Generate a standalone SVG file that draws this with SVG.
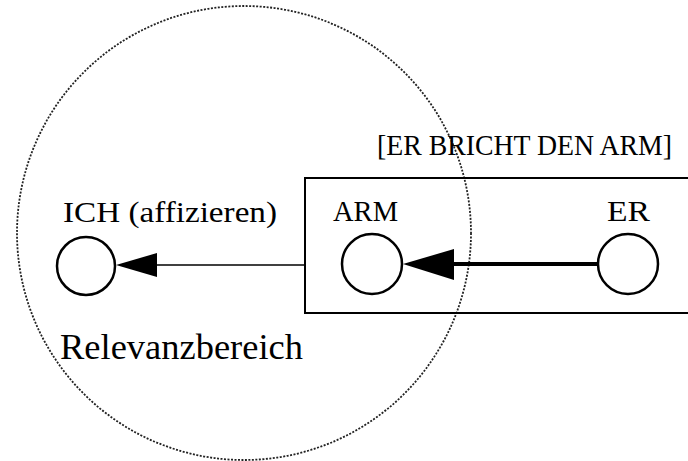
<svg xmlns="http://www.w3.org/2000/svg" width="688" height="461" viewBox="0 0 688 461">
  <style>
    .t { font-family: "Liberation Serif", "Times New Roman", serif; fill: #000; }
    .node { fill: #fff; stroke: #000; stroke-width: 2.5; }
  </style>
  <rect width="688" height="461" fill="#fff"/>
  <g id="relevanzbereich">
    <circle cx="244" cy="233" r="227" fill="none" stroke="#222" stroke-width="1.8" stroke-dasharray="2 1.5"/>
    <text class="t" x="60" y="359" font-size="36" textLength="243" lengthAdjust="spacingAndGlyphs">Relevanzbereich</text>
  </g>
  <g id="frame">
    <polyline points="688,178 305,178 305,313 688,313" fill="none" stroke="#000" stroke-width="2"/>
    <text class="t" x="377" y="155" font-size="29" textLength="295" lengthAdjust="spacingAndGlyphs">[ER BRICHT DEN ARM]</text>
  </g>
  <g id="connectors">
    <line x1="305" y1="265" x2="155" y2="265" stroke="#000" stroke-width="1.5"/>
    <polygon points="116,265 157,253 157,277" fill="#000"/>
    <line x1="598" y1="264" x2="450" y2="264" stroke="#000" stroke-width="4"/>
    <polygon points="403,264 454,249 454,280" fill="#000"/>
  </g>
  <g id="ich">
    <circle class="node" cx="86" cy="266" r="29"/>
    <text class="t" x="63" y="222" font-size="30" textLength="214" lengthAdjust="spacingAndGlyphs">ICH (affizieren)</text>
  </g>
  <g id="arm">
    <circle class="node" cx="372" cy="264" r="30"/>
    <text class="t" x="333" y="221" font-size="29" textLength="65" lengthAdjust="spacingAndGlyphs">ARM</text>
  </g>
  <g id="er">
    <circle class="node" cx="628" cy="264" r="30"/>
    <text class="t" x="607" y="221" font-size="29" textLength="43" lengthAdjust="spacingAndGlyphs">ER</text>
  </g>
</svg>
